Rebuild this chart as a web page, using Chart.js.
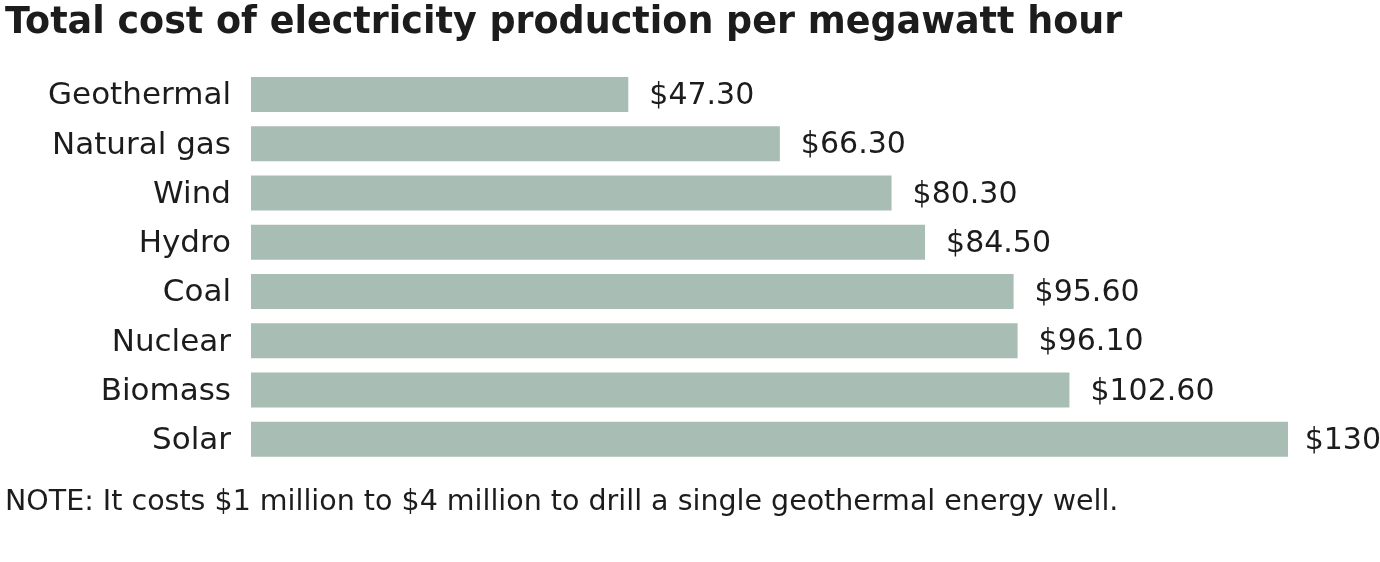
<!DOCTYPE html>
<html>
<head>
<meta charset="utf-8">
<script src="https://cdn.jsdelivr.net/npm/chart.js"></script>
<style>
  html, body { margin: 0; padding: 0; background: #fff; }
  #wrap { width: 1380px; height: 562px; position: relative; }
</style>
</head>
<body>
<div id="wrap"><canvas id="costChart"></canvas></div>
<script>
// --- Datos ---
const sources = ['Geothermal', 'Natural gas', 'Wind', 'Hydro', 'Coal', 'Nuclear', 'Biomass', 'Solar'];
const costPerMWh = [47.3, 66.3, 80.3, 84.5, 95.6, 96.1, 102.6, 130];
const chartTitle = 'Total cost of electricity production per megawatt hour';
const chartNote = 'NOTE: It costs $1 million to $4 million to drill a single geothermal energy well.';

const barColor = '#a8bdb3';
const textColor = '#1c1c1c';
const fontFamily = '"DejaVu Sans", sans-serif';

// Etiqueta de valor: $47.30, ... $130
function fmt(v) {
    return Number.isInteger(v) ? '$' + v : '$' + v.toFixed(2);
}

// --- Plugin: valores al final de cada barra ---
const valueLabels = {
    id: 'valueLabels',
    afterDatasetsDraw(chart) {
        const ctx = chart.ctx;
        const meta = chart.getDatasetMeta(0);
        ctx.save();
        ctx.font = '30px ' + fontFamily;
        ctx.fillStyle = textColor;
        ctx.textAlign = 'left';
        ctx.textBaseline = 'middle';
        meta.data.forEach((bar, i) => {
            const txt = fmt(costPerMWh[i]);
            // si no cabe, se acerca a la barra
            const x = Math.min(bar.x + 21, chart.width - ctx.measureText(txt).width + 1);
            ctx.fillText(txt, x, bar.y + 2);
        });
        ctx.restore();
    }
};

const ctx = document.getElementById('costChart').getContext('2d');
new Chart(ctx, {
    type: 'bar',
    data: {
        labels: sources,
        datasets: [{
            data: costPerMWh,
            backgroundColor: barColor,
            borderWidth: 0,
            categoryPercentage: 1,
            barPercentage: 0.71
        }]
    },
    options: {
        indexAxis: 'y',
        responsive: true,
        maintainAspectRatio: false,
        animation: false,
        layout: { padding: { left: 5, right: 92, top: 0, bottom: 42 } },
        scales: {
            x: { display: false, min: 0, max: 130 },
            y: {
                grid: { display: false },
                border: { display: false },
                ticks: {
                    color: textColor,
                    font: { family: fontFamily, size: 31 },
                    padding: 12,
                    labelOffset: 2
                },
                afterFit(scale) { scale.width = 246; }
            }
        },
        plugins: {
            legend: { display: false },
            tooltip: { enabled: false },
            title: {
                display: true,
                text: chartTitle,
                align: 'start',
                color: textColor,
                font: { family: fontFamily, size: 36.5, weight: 'bold', lineHeight: 1.2 },
                padding: { top: 2, bottom: 24 }
            },
            subtitle: {
                display: true,
                position: 'bottom',
                text: chartNote,
                align: 'start',
                color: textColor,
                font: { family: fontFamily, size: 28.5, lineHeight: 1.2 },
                padding: { top: 22, bottom: 0 }
            }
        }
    },
    plugins: [valueLabels]
});
</script>
</body>
</html>
